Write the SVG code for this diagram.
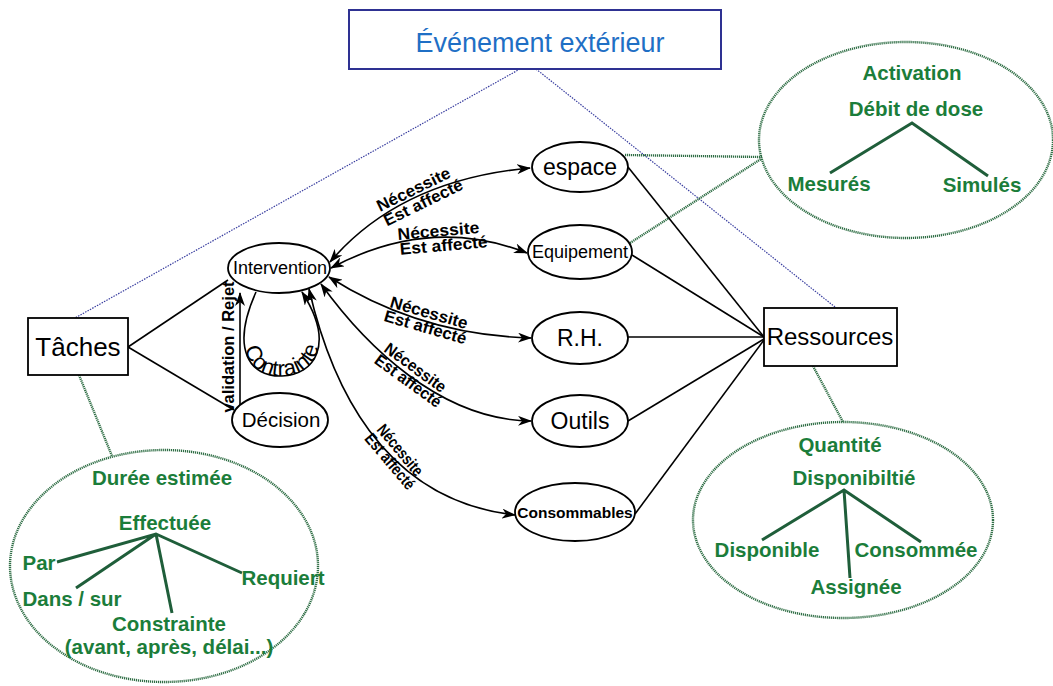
<svg xmlns="http://www.w3.org/2000/svg" width="1053" height="686" viewBox="0 0 1053 686">
<defs>
<style>
.bl{fill:none;stroke:#000;stroke-width:1.6}
.blu{fill:none;stroke:#3a3fa0;stroke-width:1.2;stroke-dasharray:1.5 1.2}
.gd{fill:none;stroke:#2f6e45;stroke-width:2.4;stroke-dasharray:1.2 0.8}
.gl{fill:none;stroke:#1f5e3a;stroke-width:3}
.node{fill:#fff;stroke:#000;stroke-width:1.8}
.t{font-family:"Liberation Sans",Arial,sans-serif;fill:#000}
.lab{font-family:"Liberation Sans",Arial,sans-serif;font-weight:bold;font-size:16.5px;fill:#000}
.g{font-family:"Liberation Sans",Arial,sans-serif;font-weight:bold;font-size:20.5px;fill:#1b7d3a;text-anchor:middle}
</style>
<marker id="ar" viewBox="0 0 14 10" markerWidth="14" markerHeight="10" refX="13" refY="5" orient="auto-start-reverse" markerUnits="userSpaceOnUse">
<path d="M0,0 L14,5 L0,10 L4,5 z" fill="#000"/>
</marker>
</defs>
<rect width="1053" height="686" fill="#fff"/>

<g id="connectors">
<line class="blu" x1="520" y1="69" x2="75" y2="318"/>
<line class="blu" x1="536" y1="69" x2="835" y2="307"/>
<line class="gd" x1="79" y1="375" x2="112" y2="456"/>
<line class="gd" x1="625" y1="155" x2="762" y2="157"/>
<line class="gd" x1="630" y1="243" x2="761" y2="159"/>
<line class="gd" x1="813" y1="366" x2="843" y2="422"/>
<line class="bl" x1="128" y1="347" x2="228" y2="280"/>
<line class="bl" x1="128" y1="347" x2="234" y2="410"/>
<line class="bl" x1="628" y1="167" x2="764" y2="337"/>
<line class="bl" x1="632" y1="255" x2="764" y2="337"/>
<line class="bl" x1="628" y1="337" x2="764" y2="337"/>
<line class="bl" x1="628" y1="421" x2="764" y2="339"/>
<line class="bl" x1="635" y1="514" x2="764" y2="340"/>
<path class="bl" d="M330,262 Q400,180 530,168" marker-start="url(#ar)" marker-end="url(#ar)"/>
<path class="bl" d="M331,268 Q430,215 527,253" marker-start="url(#ar)" marker-end="url(#ar)"/>
<path class="bl" d="M329,277 Q420,335 531,338" marker-start="url(#ar)" marker-end="url(#ar)"/>
<path class="bl" d="M321,284 C365,345 440,420 531,421" marker-start="url(#ar)" marker-end="url(#ar)"/>
<path class="bl" d="M309,289 C330,380 380,500 515,515" marker-start="url(#ar)" marker-end="url(#ar)"/>
<path class="bl" d="M240,405 L240,293" marker-end="url(#ar)"/>
<path id="loop" class="bl" d="M256,292 C230,350 250,377 282,376 C314,375 336,345 302,292" marker-end="url(#ar)"/>
<text class="t" font-size="22"><textPath href="#loop" startOffset="50%" text-anchor="middle">Contrainte</textPath></text>
<text class="lab" font-size="16" text-anchor="middle" transform="translate(234,347) rotate(-90)">validation / Rejet</text>
<g transform="translate(380,212) rotate(-26)">
<text class="lab" x="0" y="0" textLength="80" lengthAdjust="spacingAndGlyphs">Nécessite</text>
<text class="lab" x="0" y="16" textLength="86" lengthAdjust="spacingAndGlyphs">Est affecté</text>
</g>
<g transform="translate(398,240) rotate(-5)">
<text class="lab" x="0" y="0" textLength="82" lengthAdjust="spacingAndGlyphs">Nécessite</text>
<text class="lab" x="1" y="15" textLength="88" lengthAdjust="spacingAndGlyphs">Est affecté</text>
</g>
<g transform="translate(389,307) rotate(16)">
<text class="lab" x="0" y="0" textLength="80" lengthAdjust="spacingAndGlyphs">Nécessite</text>
<text class="lab" x="-2" y="15" textLength="85" lengthAdjust="spacingAndGlyphs">Est affecté</text>
</g>
<g transform="translate(383,351) rotate(36)">
<text class="lab" x="0" y="0" textLength="72" lengthAdjust="spacingAndGlyphs">Nécessite</text>
<text class="lab" x="-1" y="15" textLength="78" lengthAdjust="spacingAndGlyphs">Est affecté</text>
</g>
<g transform="translate(376,430) rotate(50)">
<text class="lab" x="0" y="0" textLength="62" lengthAdjust="spacingAndGlyphs">Nécessite</text>
<text class="lab" x="-1" y="15" textLength="68" lengthAdjust="spacingAndGlyphs">Est affecté</text>
</g>
</g>

<g id="evenement">
<rect x="349" y="10" width="372" height="59" fill="#fff" stroke="#2e3192" stroke-width="2"/>
<text class="t" x="540" y="52" font-size="27" text-anchor="middle" style="fill:#1f6fc5">Événement extérieur</text>
</g>
<g id="taches">
<rect x="28" y="318" width="100" height="57" class="node"/>
<text class="t" x="78" y="356" font-size="26" text-anchor="middle">Tâches</text>
</g>
<g id="ressources">
<rect x="764" y="308" width="133" height="58" class="node"/>
<text class="t" x="830" y="345" font-size="24" text-anchor="middle">Ressources</text>
</g>
<g id="intervention">
<ellipse cx="279" cy="268" rx="51" ry="25" class="node"/>
<text class="t" x="280" y="274" font-size="18" text-anchor="middle">Intervention</text>
</g>
<g id="decision">
<ellipse cx="280" cy="420" rx="48" ry="27" class="node"/>
<text class="t" x="281" y="427" font-size="20.5" text-anchor="middle">Décision</text>
</g>
<g id="espace">
<ellipse cx="580" cy="167" rx="48" ry="25" class="node"/>
<text class="t" x="580" y="175" font-size="23" text-anchor="middle">espace</text>
</g>
<g id="equipement">
<ellipse cx="580" cy="252" rx="52" ry="27" class="node"/>
<text class="t" x="580" y="258" font-size="18" text-anchor="middle">Equipement</text>
</g>
<g id="rh">
<ellipse cx="580" cy="338" rx="48" ry="26" class="node"/>
<text class="t" x="580" y="346" font-size="23" text-anchor="middle">R.H.</text>
</g>
<g id="outils">
<ellipse cx="580" cy="421" rx="48" ry="26" class="node"/>
<text class="t" x="580" y="429" font-size="23" text-anchor="middle">Outils</text>
</g>
<g id="consommables">
<ellipse cx="575" cy="512" rx="60" ry="29" class="node"/>
<text class="t" x="575" y="518" font-size="15.5" font-weight="bold" text-anchor="middle">Consommables</text>
</g>

<g id="activation">
<ellipse cx="906" cy="140" rx="147" ry="98" class="gd"/>
<path class="gl" d="M830,173 L912,123 L988,176"/>
<text class="g" x="912" y="80">Activation</text>
<text class="g" x="916" y="116">Débit de dose</text>
<text class="g" x="829" y="191">Mesurés</text>
<text class="g" x="982" y="192">Simulés</text>
</g>
<g id="quantite">
<ellipse cx="843" cy="520" rx="150" ry="98" class="gd"/>
<path class="gl" d="M762,540 L844,490 L921,542 M844,490 L850,578"/>
<text class="g" x="840" y="452">Quantité</text>
<text class="g" x="854" y="485">Disponibiltié</text>
<text class="g" x="767" y="557">Disponible</text>
<text class="g" x="916" y="557">Consommée</text>
<text class="g" x="856" y="594">Assignée</text>
</g>
<g id="duree">
<ellipse cx="164" cy="566" rx="154" ry="116" class="gd"/>
<path class="gl" d="M57,562 L156,534 L242,573 M156,534 L76,588 M156,534 L172,613"/>
<text class="g" x="162" y="485">Durée estimée</text>
<text class="g" x="165" y="530">Effectuée</text>
<text class="g" x="39" y="570">Par</text>
<text class="g" x="72" y="606">Dans / sur</text>
<text class="g" x="283" y="585">Requiert</text>
<text class="g" x="169" y="631" font-size="20">Constrainte</text>
<text class="g" x="169" y="654" font-size="20">(avant, après, délai...)</text>
</g>
</svg>
